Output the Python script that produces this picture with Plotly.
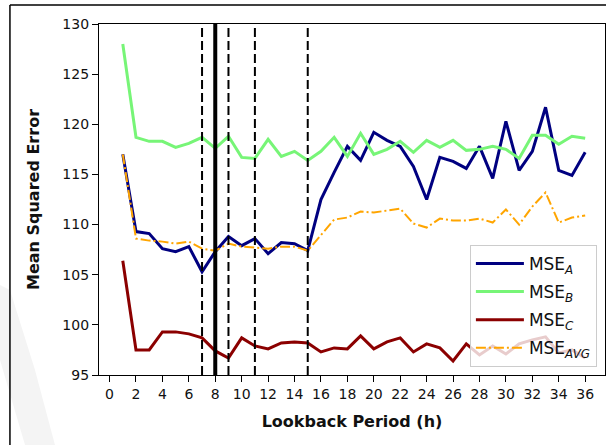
import plotly.graph_objects as go

# Lookback period (hours) and mean squared error per model
hours = list(range(1, 37))
mse_a = [117.0, 109.3, 109.1, 107.6, 107.3, 107.8, 105.3, 107.3, 108.8, 107.9,
         108.6, 107.1, 108.2, 108.1, 107.4, 112.5, 115.2, 117.8, 116.4, 119.2,
         118.4, 117.8, 115.8, 112.5, 116.7, 116.3, 115.6, 117.8, 114.6, 120.3,
         115.4, 117.3, 121.7, 115.4, 114.9, 117.2]
mse_b = [128.0, 118.7, 118.3, 118.3, 117.7, 118.1, 118.7, 117.6, 118.8, 116.7,
         116.6, 118.5, 116.8, 117.3, 116.4, 117.3, 118.7, 116.8, 119.1, 117.0,
         117.5, 118.3, 117.2, 118.4, 117.7, 118.4, 117.4, 117.5, 117.8, 117.5,
         116.6, 118.9, 118.9, 118.0, 118.8, 118.6]
mse_c = [106.4, 97.5, 97.5, 99.3, 99.3, 99.1, 98.7, 97.4, 96.7, 98.7,
         97.9, 97.6, 98.2, 98.3, 98.2, 97.3, 97.7, 97.6, 98.9, 97.6,
         98.3, 98.7, 97.3, 98.1, 97.7, 96.4, 98.1, 97.0, 97.9, 97.1,
         98.1, 98.5, 98.8, 97.2, 97.5, 96.7]
mse_avg = [117.0, 108.6, 108.4, 108.3, 108.1, 108.3, 107.6, 107.4, 108.1, 107.8,
           107.7, 107.6, 107.8, 107.8, 107.4, 109.0, 110.5, 110.7, 111.3, 111.2,
           111.4, 111.6, 110.1, 109.7, 110.6, 110.4, 110.4, 110.6, 110.2, 111.5,
           110.0, 111.8, 113.2, 110.2, 110.7, 110.9]

# Marked lookback periods
dashed_marks = [7, 9, 11, 15]
best_mark = [8]

x_ticks = list(range(0, 37, 2))
y_ticks = list(range(95, 131, 5))

series = [
    ("MSE<sub><i>A</i></sub>", mse_a, dict(color="#000080", width=3)),
    ("MSE<sub><i>B</i></sub>", mse_b, dict(color="#77f577", width=3)),
    ("MSE<sub><i>C</i></sub>", mse_c, dict(color="#8b0000", width=3)),
    ("MSE<sub><i>AVG</i></sub>", mse_avg, dict(color="#ffa500", width=2, dash="10px,3px,2px,3px")),
]

fig = go.Figure()
for i, (name, vals, line) in enumerate(series):
    fig.add_trace(go.Scatter(x=hours, y=vals, mode="lines", name=name, line=line,
                             legendgroup=f"g{i}"))

shapes = []
# faint watermark swoosh in the lower-left corner
shapes.append(dict(type="path", xref="paper", yref="paper", layer="below",
                   path="M -0.1957,0.2564 L -0.1759,0.2422 L -0.1265,0.0142 "
                        "L -0.087,-0.1994 L -0.1462,-0.1994 L -0.1957,0.0427 Z",
                   fillcolor="#f4f4f4", line=dict(width=0)))
for h in dashed_marks:
    shapes.append(dict(type="line", xref="x", yref="paper", x0=h, x1=h, y0=0, y1=1,
                       line=dict(color="black", width=2, dash="9px,4px"), layer="above"))
for h in best_mark:
    shapes.append(dict(type="line", xref="x", yref="paper", x0=h, x1=h, y0=0, y1=1,
                       line=dict(color="black", width=4), layer="above"))

# outer frame around the figure
shapes.append(dict(type="line", xref="paper", yref="paper", x0=-0.176, x1=1.01,
                   y0=1.054, y1=1.054, line=dict(color="black", width=1.5)))
shapes.append(dict(type="line", xref="paper", yref="paper", x0=-0.176, x1=-0.176,
                   y0=1.054, y1=-0.21, line=dict(color="black", width=1.5)))

fig.update_layout(
    width=606, height=445,
    margin=dict(l=99, r=1, t=24, b=70),
    paper_bgcolor="white", plot_bgcolor="white",
    font=dict(family="DejaVu Sans", color="#111111", size=14),
    shapes=shapes,
    showlegend=True,
    legend=dict(x=0.984, y=0.023, xanchor="right", yanchor="bottom",
                bgcolor="rgba(255,255,255,0.8)", bordercolor="#cccccc", borderwidth=1,
                font=dict(family="DejaVu Sans", size=17, color="#111111"),
                itemwidth=48, tracegroupgap=3),
)
fig.update_xaxes(range=[-0.8, 37.5], tickvals=x_ticks, ticks="outside", ticklen=6,
                 tickcolor="black", showline=True, linecolor="black", linewidth=1.2,
                 mirror=True, showgrid=False, zeroline=False,
                 tickfont=dict(size=14),
                 title=dict(text="<b>Lookback Period (h)</b>",
                            font=dict(size=16, family="DejaVu Sans"), standoff=14))
fig.update_yaxes(range=[95, 130], tickvals=y_ticks, ticks="outside", ticklen=6,
                 tickcolor="black", showline=True, linecolor="black", linewidth=1.2,
                 mirror=True, showgrid=False, zeroline=False,
                 tickfont=dict(size=14),
                 title=dict(text="<b>Mean Squared Error</b>",
                            font=dict(size=16, family="DejaVu Sans"), standoff=18))

fig.write_html("out.html")
